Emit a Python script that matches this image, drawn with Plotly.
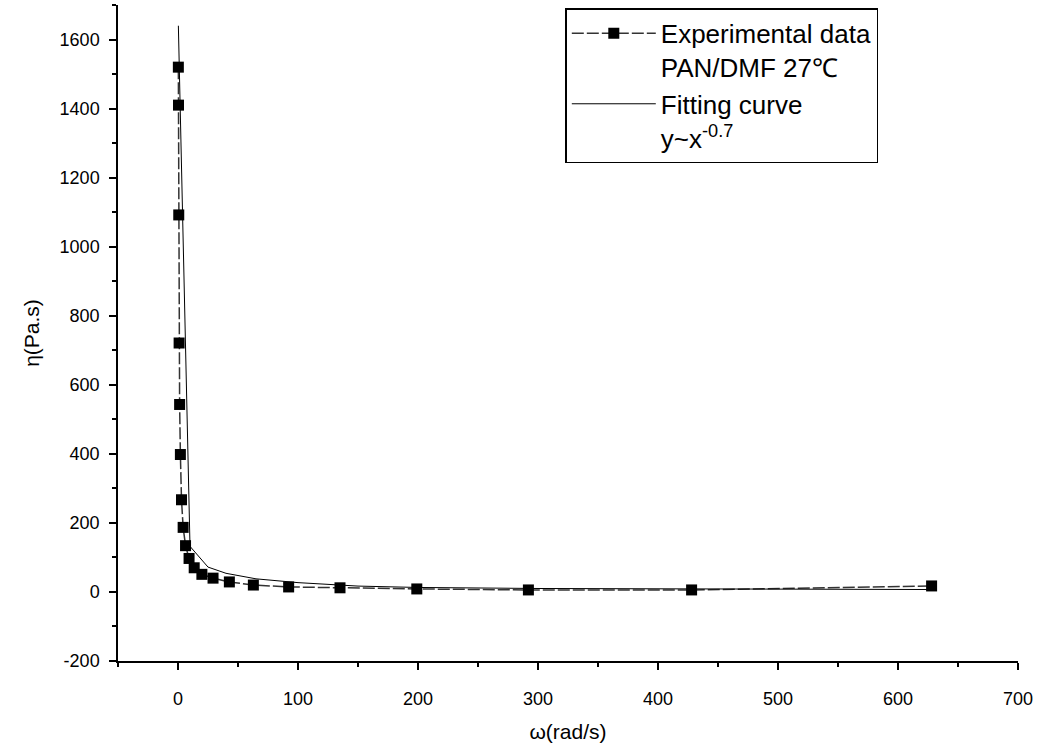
import plotly.graph_objects as go

# Experimental data (angular frequency, viscosity)
omega = [0.292, 0.428, 0.628, 0.922, 1.35, 1.99, 2.92, 4.28, 6.28, 9.22, 13.5,
         19.9, 29.2, 42.8, 62.8, 92.2, 135, 199, 292, 428, 628]
eta = [1520, 1410, 1092, 721, 543, 398, 267, 187, 134, 97, 70,
       51, 40, 29, 20, 14.5, 12, 8.7, 5.8, 5.8, 17.4]

# Fitting curve points as drawn
fit_x = [0.3, 10, 25, 40, 65, 100, 150, 200, 300, 430, 630]
fit_y = [1640, 132, 72, 54, 38, 27, 17, 13, 10, 8, 7]

x_ticks = [0, 100, 200, 300, 400, 500, 600, 700]
y_ticks = [-200, 0, 200, 400, 600, 800, 1000, 1200, 1400, 1600]
y_tick_labels = ["-200", "0", "200", "400", "600", "800", "1000", "1200", "1400", "1600"]

FONT = "Liberation Sans, Arial, sans-serif"

fig = go.Figure()
fig.add_trace(go.Scatter(
    x=omega, y=eta, mode="lines+markers",
    name="Experimental data<br>PAN/DMF 27\u2103",
    line=dict(color="#333333", width=1.5, dash="12px,3px"),
    marker=dict(symbol="square", size=11, color="black"),
))
fig.add_trace(go.Scatter(
    x=fit_x, y=fit_y, mode="lines",
    name="Fitting curve<br>y~x<sup>-0.7</sup>",
    line=dict(color="black", width=1),
))

axis_common = dict(
    showgrid=False, zeroline=False, showline=True, linecolor="black", linewidth=1.5,
    ticks="outside", ticklen=7, tickwidth=1.5, tickcolor="black",
    tickfont=dict(family=FONT, size=18, color="black"),
    mirror=False,
)
fig.update_xaxes(
    range=[-50, 700], tickvals=x_ticks, ticklabelstandoff=14,
    minor=dict(dtick=50, tick0=50, ticks="outside", ticklen=4, tickwidth=1.5, tickcolor="black"),
    title=dict(text="\u03c9(rad/s)", font=dict(family=FONT, size=21, color="black"), standoff=16),
    **axis_common,
)
fig.update_yaxes(
    range=[-200, 1700], tickvals=y_ticks, ticktext=y_tick_labels, ticklabelstandoff=6,
    minor=dict(dtick=100, tick0=-100, ticks="outside", ticklen=4, tickwidth=1.5, tickcolor="black"),
    title=dict(text="\u03b7(Pa.s)", font=dict(family=FONT, size=21, color="black"), standoff=14),
    **axis_common,
)

fig.update_layout(
    width=1038, height=749,
    margin=dict(l=118, r=20, t=5, b=88, autoexpand=False),
    paper_bgcolor="white", plot_bgcolor="white",
    font=dict(family=FONT, color="black"),
    legend=dict(
        x=0.497, y=0.995, xanchor="left", yanchor="top",
        bgcolor="white", bordercolor="black", borderwidth=1.5,
        font=dict(family=FONT, size=26, color="black"),
        itemwidth=84, valign="top", tracegroupgap=0,
        entrywidth=320, entrywidthmode="pixels",
    ),
)

fig.write_html("out.html", config={"displayModeBar": False},
               post_script="document.body.style.margin='0';")
